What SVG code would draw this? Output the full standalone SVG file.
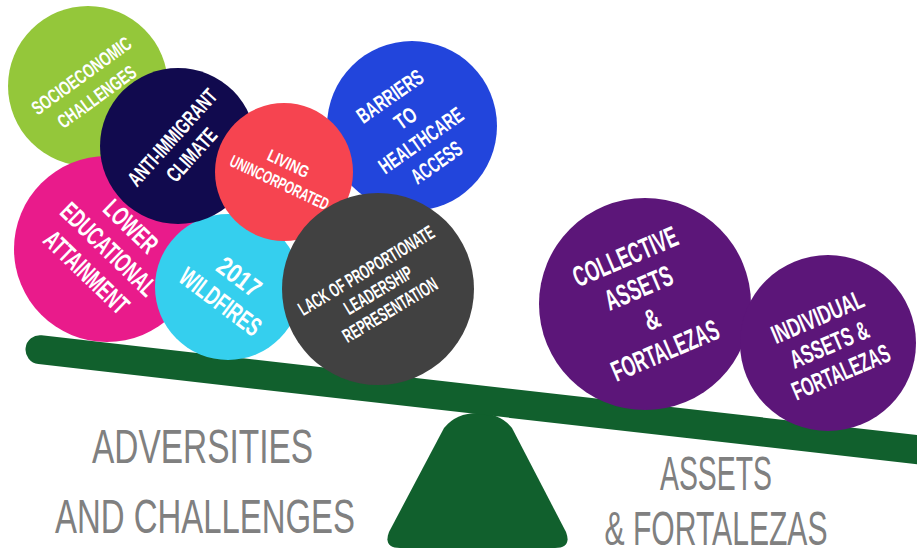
<svg xmlns="http://www.w3.org/2000/svg" width="917" height="548" viewBox="0 0 917 548">
  <defs>
    <style>
      .lbl { font-family: "Liberation Sans Narrow", "Liberation Sans", Arial, sans-serif; font-weight: bold; fill: #ffffff; text-anchor: middle; }
      .cap { font-family: "Liberation Sans Narrow", "Liberation Sans", Arial, sans-serif; font-weight: normal; fill: #808080; text-anchor: middle; font-size: 49px; }
      .beam { stroke: #11602d; stroke-width: 29; stroke-linecap: round; fill: none; }
      .base { fill: #11602d; }
    </style>
  </defs>
  <rect width="917" height="548" fill="#ffffff"/>

  <!-- seesaw: fulcrum and tilted beam -->
  <g id="seesaw">
    <path class="base" d="M 400,548 L 555,548 Q 572,548 566,532 L 512,428 Q 500,413 478,413 Q 456,413 444,428 L 389,532 Q 383,548 400,548 Z"/>
    <line class="beam" x1="40" y1="349.7" x2="935" y2="451.7"/>
  </g>

  <!-- adversities, back to front -->
  <g id="socioeconomic">
    <circle cx="88" cy="86" r="80" fill="#94c73a"/>
    <g transform="translate(89,86) rotate(-36)">
      <text class="lbl" font-size="19.5" y="-6" textLength="118" lengthAdjust="spacingAndGlyphs">SOCIOECONOMIC</text>
      <text class="lbl" font-size="19.5" y="20" textLength="92" lengthAdjust="spacingAndGlyphs">CHALLENGES</text>
    </g>
  </g>

  <g id="lower-education">
    <circle cx="107" cy="249" r="93" fill="#e91b8b"/>
    <g transform="translate(109,249) rotate(44)">
      <text class="lbl" font-size="26.5" y="-22.5" textLength="64" lengthAdjust="spacingAndGlyphs">LOWER</text>
      <text class="lbl" font-size="26.5" y="9.5" textLength="122" lengthAdjust="spacingAndGlyphs">EDUCATIONAL</text>
      <text class="lbl" font-size="26.5" y="41.5" textLength="107" lengthAdjust="spacingAndGlyphs">ATTAINMENT</text>
    </g>
  </g>

  <g id="wildfires">
    <circle cx="228" cy="287" r="73" fill="#35cfee"/>
    <g transform="translate(230,289) rotate(37)">
      <text class="lbl" font-size="26.5" y="-6" textLength="48" lengthAdjust="spacingAndGlyphs">2017</text>
      <text class="lbl" font-size="26.5" y="25" textLength="95" lengthAdjust="spacingAndGlyphs">WILDFIRES</text>
    </g>
  </g>

  <g id="anti-immigrant">
    <circle cx="178" cy="146" r="78" fill="#110a4e"/>
    <g transform="translate(182,146) rotate(-48)">
      <text class="lbl" font-size="21.5" y="-5.5" textLength="122" lengthAdjust="spacingAndGlyphs">ANTI-IMMIGRANT</text>
      <text class="lbl" font-size="21.5" y="20.5" textLength="64" lengthAdjust="spacingAndGlyphs">CLIMATE</text>
    </g>
  </g>

  <g id="healthcare">
    <circle cx="412" cy="126" r="85" fill="#2245dc"/>
    <g transform="translate(413,129) rotate(-35)">
      <text class="lbl" font-size="22" y="-32.5" textLength="76" lengthAdjust="spacingAndGlyphs">BARRIERS</text>
      <text class="lbl" font-size="22" y="-5.5" textLength="22" lengthAdjust="spacingAndGlyphs">TO</text>
      <text class="lbl" font-size="22" y="21.5" textLength="98" lengthAdjust="spacingAndGlyphs">HEALTHCARE</text>
      <text class="lbl" font-size="22" y="48.5" textLength="57" lengthAdjust="spacingAndGlyphs">ACCESS</text>
    </g>
  </g>

  <g id="unincorporated">
    <circle cx="284" cy="172" r="69" fill="#f64450"/>
    <g transform="translate(284,173) rotate(25)">
      <text class="lbl" font-size="17" y="-4.5" textLength="44" lengthAdjust="spacingAndGlyphs">LIVING</text>
      <text class="lbl" font-size="17" y="16.5" textLength="107" lengthAdjust="spacingAndGlyphs">UNINCORPORATED</text>
    </g>
  </g>

  <g id="leadership">
    <circle cx="378" cy="289" r="96" fill="#414141"/>
    <g transform="translate(378,290) rotate(-31)">
      <text class="lbl" font-size="19.5" y="-16" textLength="155" lengthAdjust="spacingAndGlyphs">LACK OF PROPORTIONATE</text>
      <text class="lbl" font-size="19.5" y="7" textLength="76" lengthAdjust="spacingAndGlyphs">LEADERSHIP</text>
      <text class="lbl" font-size="19.5" y="30" textLength="107" lengthAdjust="spacingAndGlyphs">REPRESENTATION</text>
    </g>
  </g>

  <!-- assets -->
  <g id="collective-assets">
    <circle cx="645" cy="304" r="106" fill="#5c1679"/>
    <g transform="translate(645,303) rotate(-23)">
      <text class="lbl" font-size="29" y="-40.5" textLength="111" lengthAdjust="spacingAndGlyphs">COLLECTIVE</text>
      <text class="lbl" font-size="29" y="-6.5" textLength="71" lengthAdjust="spacingAndGlyphs">ASSETS</text>
      <text class="lbl" font-size="29" y="27.5" textLength="15" lengthAdjust="spacingAndGlyphs">&amp;</text>
      <text class="lbl" font-size="29" y="61.5" textLength="114" lengthAdjust="spacingAndGlyphs">FORTALEZAS</text>
    </g>
  </g>

  <g id="individual-assets">
    <circle cx="828" cy="343" r="88" fill="#5c1679"/>
    <g transform="translate(829,344) rotate(-23)">
      <text class="lbl" font-size="26" y="-20.5" textLength="98" lengthAdjust="spacingAndGlyphs">INDIVIDUAL</text>
      <text class="lbl" font-size="26" y="9.5" textLength="83" lengthAdjust="spacingAndGlyphs">ASSETS &amp;</text>
      <text class="lbl" font-size="26" y="39.5" textLength="104" lengthAdjust="spacingAndGlyphs">FORTALEZAS</text>
    </g>
  </g>

  <!-- side captions -->
  <g id="caption-adversities">
    <text class="cap" x="202.5" y="463" textLength="221" lengthAdjust="spacingAndGlyphs">ADVERSITIES</text>
    <text class="cap" x="205" y="533" textLength="300" lengthAdjust="spacingAndGlyphs">AND CHALLENGES</text>
  </g>
  <g id="caption-assets">
    <text class="cap" x="716" y="490" textLength="112" lengthAdjust="spacingAndGlyphs">ASSETS</text>
    <text class="cap" x="716" y="545" textLength="223" lengthAdjust="spacingAndGlyphs">&amp; FORTALEZAS</text>
  </g>
</svg>
